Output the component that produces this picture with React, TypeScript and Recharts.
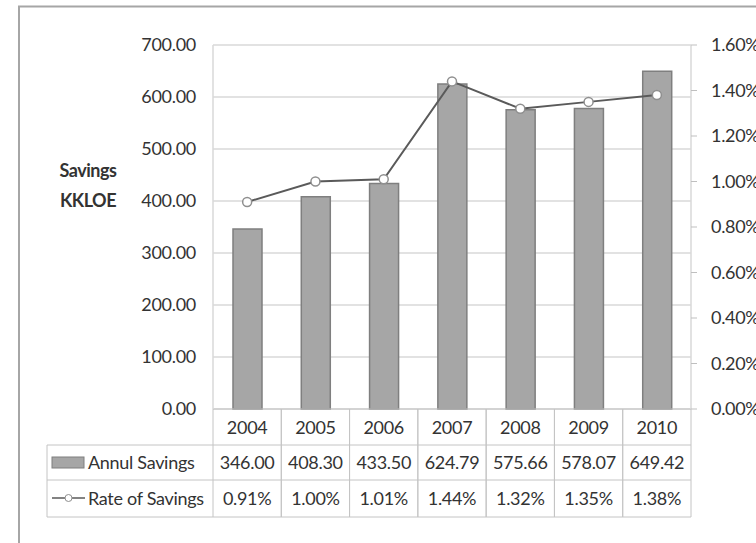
import { ComposedChart, Bar, Line, XAxis, YAxis, CartesianGrid } from 'recharts';

const YEARS = ['2004', '2005', '2006', '2007', '2008', '2009', '2010'];
const ANNUAL_SAVINGS = [346.0, 408.3, 433.5, 624.79, 575.66, 578.07, 649.42];
const RATE_OF_SAVINGS = [0.0091, 0.01, 0.0101, 0.0144, 0.0132, 0.0135, 0.0138];
const SAVINGS_TICKS = [0, 100, 200, 300, 400, 500, 600, 700];
const RATE_TICKS = [0, 0.002, 0.004, 0.006, 0.008, 0.01, 0.012, 0.014, 0.016];
const SERIES_BAR = 'Annul Savings';
const SERIES_LINE = 'Rate of Savings';
const AXIS_TITLE = ['Savings', 'KKLOE'];

const data = YEARS.map((year, i) => ({
  year,
  savings: ANNUAL_SAVINGS[i],
  rate: RATE_OF_SAVINGS[i],
}));

const W = 756;
const H = 543;
const PLOT_LEFT = 213;
const PLOT_RIGHT = 691;
const PLOT_TOP = 45;
const PLOT_BOTTOM = 409;
const LEFT_AXIS_W = 100;
const RIGHT_AXIS_W = 65;
const BAND = (PLOT_RIGHT - PLOT_LEFT) / YEARS.length;

const FONT = 'Lato, "Open Sans", sans-serif';
const FS = 18;
const TEXT = '#333333';
const GRID = '#d9d9d9';
const TABLE_LINE = '#c4c4c4';
const BAR_FILL = '#a6a6a6';
const BAR_STROKE = '#7f7f7f';
const LINE_COLOR = '#5a5a5a';

const pct = (v: number) => (v * 100).toFixed(2) + '%';

// year row + two value rows of the data table, hung off the category axis
function TableTick(props: any) {
  const { x, y, payload } = props;
  const i = YEARS.indexOf(payload.value);
  const half = BAND / 2;
  return (
    <g fontFamily={FONT} fontSize={FS} fill={TEXT} letterSpacing={-0.3}>
      <text x={x} y={y + 18} textAnchor="middle" dominantBaseline="central">{payload.value}</text>
      <text x={x} y={y + 53} textAnchor="middle" dominantBaseline="central">{ANNUAL_SAVINGS[i].toFixed(2)}</text>
      <text x={x} y={y + 89} textAnchor="middle" dominantBaseline="central">{pct(RATE_OF_SAVINGS[i])}</text>
      <line x1={x - half} y1={y} x2={x - half} y2={y + 108} stroke={TABLE_LINE} />
      <line x1={x + half} y1={y} x2={x + half} y2={y + 108} stroke={TABLE_LINE} />
    </g>
  );
}

export default function App() {
  return (
    <div style={{ position: 'absolute', left: 0, top: 0, width: W, height: H, background: '#fff' }}>
      <ComposedChart
        width={W}
        height={H}
        data={data}
        margin={{
          top: PLOT_TOP,
          left: PLOT_LEFT - LEFT_AXIS_W,
          right: W - PLOT_RIGHT - RIGHT_AXIS_W,
          bottom: 0,
        }}
      >
        <CartesianGrid vertical={false} stroke={GRID} strokeWidth={1.5} yAxisId="left" />
        <XAxis
          dataKey="year"
          height={H - PLOT_BOTTOM}
          tickSize={0}
          tickMargin={0}
          tickLine={false}
          axisLine={{ stroke: TABLE_LINE }}
          tick={<TableTick />}
          interval={0}
        />
        <YAxis
          yAxisId="left"
          width={LEFT_AXIS_W}
          domain={[0, 700]}
          ticks={SAVINGS_TICKS}
          tickFormatter={(v: number) => v.toFixed(2)}
          tickLine={false}
          tickSize={6}
          tickMargin={11}
          axisLine={{ stroke: GRID, strokeWidth: 1.5 }}
          tick={{ fill: TEXT, fontSize: FS, fontFamily: FONT, letterSpacing: -0.3 }}
        />
        <YAxis
          yAxisId="right"
          orientation="right"
          width={RIGHT_AXIS_W}
          domain={[0, 0.016]}
          ticks={RATE_TICKS}
          tickFormatter={pct}
          tickSize={6}
          tickMargin={14}
          tickLine={{ stroke: '#bfbfbf' }}
          axisLine={{ stroke: GRID, strokeWidth: 1.5 }}
          tick={{ fill: TEXT, fontSize: FS, fontFamily: FONT, textAnchor: 'start', letterSpacing: -0.3 }}
        />
        <Bar
          yAxisId="left"
          dataKey="savings"
          name={SERIES_BAR}
          barSize={29}
          fill={BAR_FILL}
          stroke={BAR_STROKE}
          strokeWidth={1.5}
          isAnimationActive={false}
        />
        <Line
          yAxisId="right"
          dataKey="rate"
          name={SERIES_LINE}
          stroke={LINE_COLOR}
          strokeWidth={2}
          dot={{ r: 4.5, fill: '#ffffff', stroke: '#8f8f8f', strokeWidth: 1.5 }}
          isAnimationActive={false}
        />
      </ComposedChart>
      <svg
        width={W}
        height={H}
        style={{ position: 'absolute', left: 0, top: 0, pointerEvents: 'none' }}
        fontFamily={FONT}
      >
        <polyline points={`19,${H} 19,6.5 ${W},6.5`} fill="none" stroke="#a6a6a6" strokeWidth={2} />
        <g fontSize={FS} fontWeight="bold" fill={TEXT} textAnchor="middle" letterSpacing={-0.5}>
          <text x={88} y={170} dominantBaseline="central">{AXIS_TITLE[0]}</text>
          <text x={88} y={200} dominantBaseline="central">{AXIS_TITLE[1]}</text>
        </g>
        <g stroke={TABLE_LINE}>
          <line x1={47} y1={445} x2={PLOT_RIGHT} y2={445} />
          <line x1={47} y1={480} x2={PLOT_RIGHT} y2={480} />
          <line x1={47} y1={517} x2={PLOT_RIGHT} y2={517} />
          <line x1={47} y1={445} x2={47} y2={517} />
        </g>
        <rect x={52} y={457} width={32} height={11} fill={BAR_FILL} stroke={BAR_STROKE} />
        <line x1={52} y1={498} x2={85} y2={498} stroke={LINE_COLOR} strokeWidth={1.5} />
        <circle cx={68.5} cy={498} r={3.5} fill="#fff" stroke="#8f8f8f" />
        <g fontSize={FS} fill={TEXT} letterSpacing={-0.3}>
          <text x={88} y={462} dominantBaseline="central">{SERIES_BAR}</text>
          <text x={88} y={498} dominantBaseline="central">{SERIES_LINE}</text>
        </g>
      </svg>
    </div>
  );
}
